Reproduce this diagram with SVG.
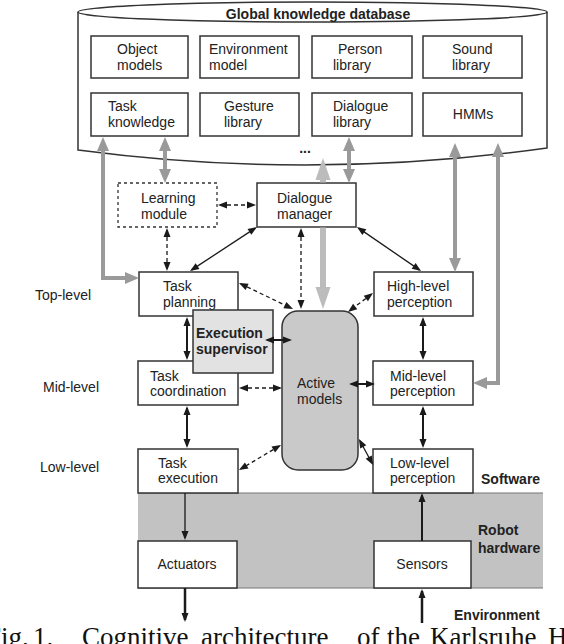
<svg xmlns="http://www.w3.org/2000/svg" width="564" height="644" viewBox="0 0 564 644">
<style>
  .box{fill:#fff;stroke:#333;stroke-width:1.5}
  .t{font-family:"Liberation Sans",Arial,sans-serif;font-size:14px;fill:#222}
  .c{text-anchor:middle}
  .b{font-weight:bold}
  .blk{fill:none;stroke:#1a1a1a;stroke-width:1.3;marker-start:url(#ab);marker-end:url(#ab)}
  .dash{stroke-dasharray:4 3}
  .w2{stroke-width:2}
  .gry{fill:none;stroke:#9a9a9a;stroke-width:4;marker-start:url(#ag);marker-end:url(#ag)}
  .lgt{fill:none;stroke:#bcbcbc;stroke-width:6}
</style>
<defs>
  <marker id="ab" markerUnits="userSpaceOnUse" markerWidth="9" markerHeight="7" refX="7" refY="3.5" orient="auto-start-reverse" overflow="visible">
    <path d="M0,0 L9,3.5 L0,7 z" fill="#1a1a1a"/>
  </marker>
  <marker id="ag" markerUnits="userSpaceOnUse" markerWidth="14" markerHeight="12" refX="9" refY="6" orient="auto-start-reverse" overflow="visible">
    <path d="M0,0 L14,6 L0,12 z" fill="#9a9a9a"/>
  </marker>
  <marker id="al" markerUnits="userSpaceOnUse" markerWidth="22" markerHeight="15" refX="13" refY="7.5" orient="auto-start-reverse" overflow="visible">
    <path d="M0,0 L22,7.5 L0,15 z" fill="#bcbcbc"/>
  </marker>
</defs>
<rect width="564" height="644" fill="#fff"/>

<!-- hardware band -->
<g id="hardware">
  <rect x="138" y="493" width="405" height="95" fill="#c2c2c2"/>
  <line x1="138" y1="493" x2="543" y2="493" stroke="#777" stroke-width="1.2"/>
  <line x1="138" y1="588" x2="543" y2="588" stroke="#777" stroke-width="1.2"/>
</g>

<!-- database -->
<g id="database">
  <path d="M78,12 L78,150 Q312,181 547,148 L547,12" fill="#fff" stroke="#333" stroke-width="1.5"/>
  <ellipse cx="312.5" cy="12" rx="234.5" ry="10" fill="#fff" stroke="#333" stroke-width="1.5"/>
  <text class="t b c" x="318" y="19" font-size="13.5">Global knowledge database</text>
  <text class="t b c" x="305" y="153" font-size="12">...</text>
</g>
<g id="object-models"><rect class="box" x="91" y="36" width="97" height="42"/><text class="t" x="117" y="54">Object</text><text class="t" x="117" y="70">models</text></g>
<g id="environment-model"><rect class="box" x="200" y="36" width="99" height="42"/><text class="t" x="209" y="54">Environment</text><text class="t" x="209" y="70">model</text></g>
<g id="person-library"><rect class="box" x="312" y="36" width="100" height="42"/><text class="t" x="338" y="54">Person</text><text class="t" x="333" y="70">library</text></g>
<g id="sound-library"><rect class="box" x="423" y="36" width="99" height="42"/><text class="t" x="452" y="54">Sound</text><text class="t" x="452" y="70">library</text></g>
<g id="task-knowledge"><rect class="box" x="91" y="93" width="97" height="43"/><text class="t" x="108" y="111">Task</text><text class="t" x="108" y="127">knowledge</text></g>
<g id="gesture-library"><rect class="box" x="200" y="93" width="99" height="43"/><text class="t" x="224" y="111">Gesture</text><text class="t" x="224" y="127">library</text></g>
<g id="dialogue-library"><rect class="box" x="312" y="93" width="100" height="43"/><text class="t" x="333" y="111">Dialogue</text><text class="t" x="333" y="127">library</text></g>
<g id="hmms"><rect class="box" x="423" y="93" width="99" height="43"/><text class="t c" x="473" y="119">HMMs</text></g>

<!-- nodes -->
<g id="learning-module"><rect x="118" y="183" width="99" height="44" fill="#fff" stroke="#333" stroke-width="1.3" stroke-dasharray="3 3"/><text class="t" x="141" y="203" fill="#444">Learning</text><text class="t" x="141" y="219">module</text></g>
<g id="dialogue-manager"><rect class="box" x="257" y="183" width="99" height="44"/><text class="t" x="277" y="203">Dialogue</text><text class="t" x="277" y="219">manager</text></g>
<g id="task-planning"><rect class="box" x="139" y="272" width="99" height="44"/><text class="t" x="163" y="291">Task</text><text class="t" x="163" y="307">planning</text></g>
<g id="high-level-perception"><rect class="box" x="374" y="272" width="99" height="44"/><text class="t" x="387" y="291">High-level</text><text class="t" x="387" y="307">perception</text></g>
<g id="task-coordination"><rect class="box" x="138" y="361" width="100" height="44"/><text class="t" x="150" y="381">Task</text><text class="t" x="150" y="396">coordination</text></g>
<g id="execution-supervisor"><rect x="193" y="310" width="80" height="63" fill="#e2e2e2" stroke="#333" stroke-width="1.5"/><text class="t b" x="196" y="338">Execution</text><text class="t b" x="196" y="354">supervisor</text></g>
<g id="active-models"><rect x="282" y="311" width="76" height="159" rx="16" fill="#c9c9c9" stroke="#333" stroke-width="1.5"/><text class="t" x="297" y="388" fill="#333">Active</text><text class="t" x="297" y="404" fill="#333">models</text></g>
<g id="mid-level-perception"><rect class="box" x="373" y="361" width="100" height="44"/><text class="t" x="390" y="381">Mid-level</text><text class="t" x="390" y="396">perception</text></g>
<g id="task-execution"><rect class="box" x="138" y="449" width="100" height="44"/><text class="t" x="158" y="468">Task</text><text class="t" x="158" y="483">execution</text></g>
<g id="low-level-perception"><rect class="box" x="373" y="449" width="100" height="44"/><text class="t" x="390" y="468">Low-level</text><text class="t" x="390" y="483">perception</text></g>
<g id="actuators"><rect class="box" x="138" y="541" width="99" height="47"/><text class="t c" x="187" y="569">Actuators</text></g>
<g id="sensors"><rect class="box" x="374" y="541" width="97" height="47"/><text class="t c" x="422" y="569">Sensors</text></g>

<!-- labels -->
<g id="labels">
  <text class="t" x="35" y="300">Top-level</text>
  <text class="t" x="43" y="392">Mid-level</text>
  <text class="t" x="40" y="472">Low-level</text>
  <text class="t b" x="481" y="484" font-size="13">Software</text>
  <text class="t b" x="478" y="535" font-size="13">Robot</text>
  <text class="t b" x="478" y="553" font-size="13">hardware</text>
  <text class="t b" x="454" y="620" font-size="13">Environment</text>
</g>

<!-- connectors -->
<g id="connectors">
  <path class="gry" d="M134,278 H103 V142"/>
  <path class="gry" d="M165,142 V178"/>
  <path class="gry" d="M349,142 V178"/>
  <path class="gry" d="M455,148 V267"/>
  <path class="gry" d="M498,148 V383 H478"/>
  <path class="lgt" d="M323,182.5 V167" marker-end="url(#al)"/>
  <path class="lgt" d="M323,227.5 V300" marker-end="url(#al)"/>

  <path class="blk dash" d="M220,205 H254"/>
  <path class="blk dash" d="M167,230 V269"/>
  <path class="blk" d="M255.3,228.1 L191.7,269.9"/>
  <path class="blk" d="M358.6,228.1 L419.4,269.9"/>
  <path class="blk dash" d="M301,230 V307"/>
  <path class="blk dash" d="M240.8,283.9 L291.2,308.1"/>
  <path class="blk dash" d="M371.4,294.2 L349.6,310.8"/>
  <path class="blk w2" d="M187,319 V358"/>
  <path class="blk w2" d="M267,340 H290"/>
  <path class="blk dash" d="M241,388 H280"/>
  <path class="blk w2" d="M351,384 H373"/>
  <path class="blk w2" d="M187,408 V446"/>
  <path class="blk dash" d="M279.3,446 L240.7,469"/>
  <path class="blk" d="M359.9,440.8 L372.1,463.2"/>
  <path class="blk w2" d="M423,319 V358"/>
  <path class="blk w2" d="M423,408 V446"/>
  <path d="M185,493 V538" fill="none" stroke="#1a1a1a" stroke-width="1.3" marker-end="url(#ab)"/>
  <path d="M422,541 V495" fill="none" stroke="#1a1a1a" stroke-width="2" marker-end="url(#ab)"/>
  <path d="M185,588 V620" fill="none" stroke="#1a1a1a" stroke-width="2.5" marker-end="url(#ab)"/>
  <path d="M422,623 V591" fill="none" stroke="#1a1a1a" stroke-width="2.5" marker-end="url(#ab)"/>
</g>

<!-- caption (clipped by the frame, as in the reference) -->
<text id="caption" font-family="'Liberation Serif','Times New Roman',serif" font-size="27" fill="#111" y="646"><tspan x="-14">Fig.</tspan><tspan x="33">1.</tspan><tspan x="82">Cognitive</tspan><tspan x="201">architecture</tspan><tspan x="357">of</tspan><tspan x="387">the</tspan><tspan x="430">Karlsruhe</tspan><tspan x="548">H</tspan></text>
</svg>
